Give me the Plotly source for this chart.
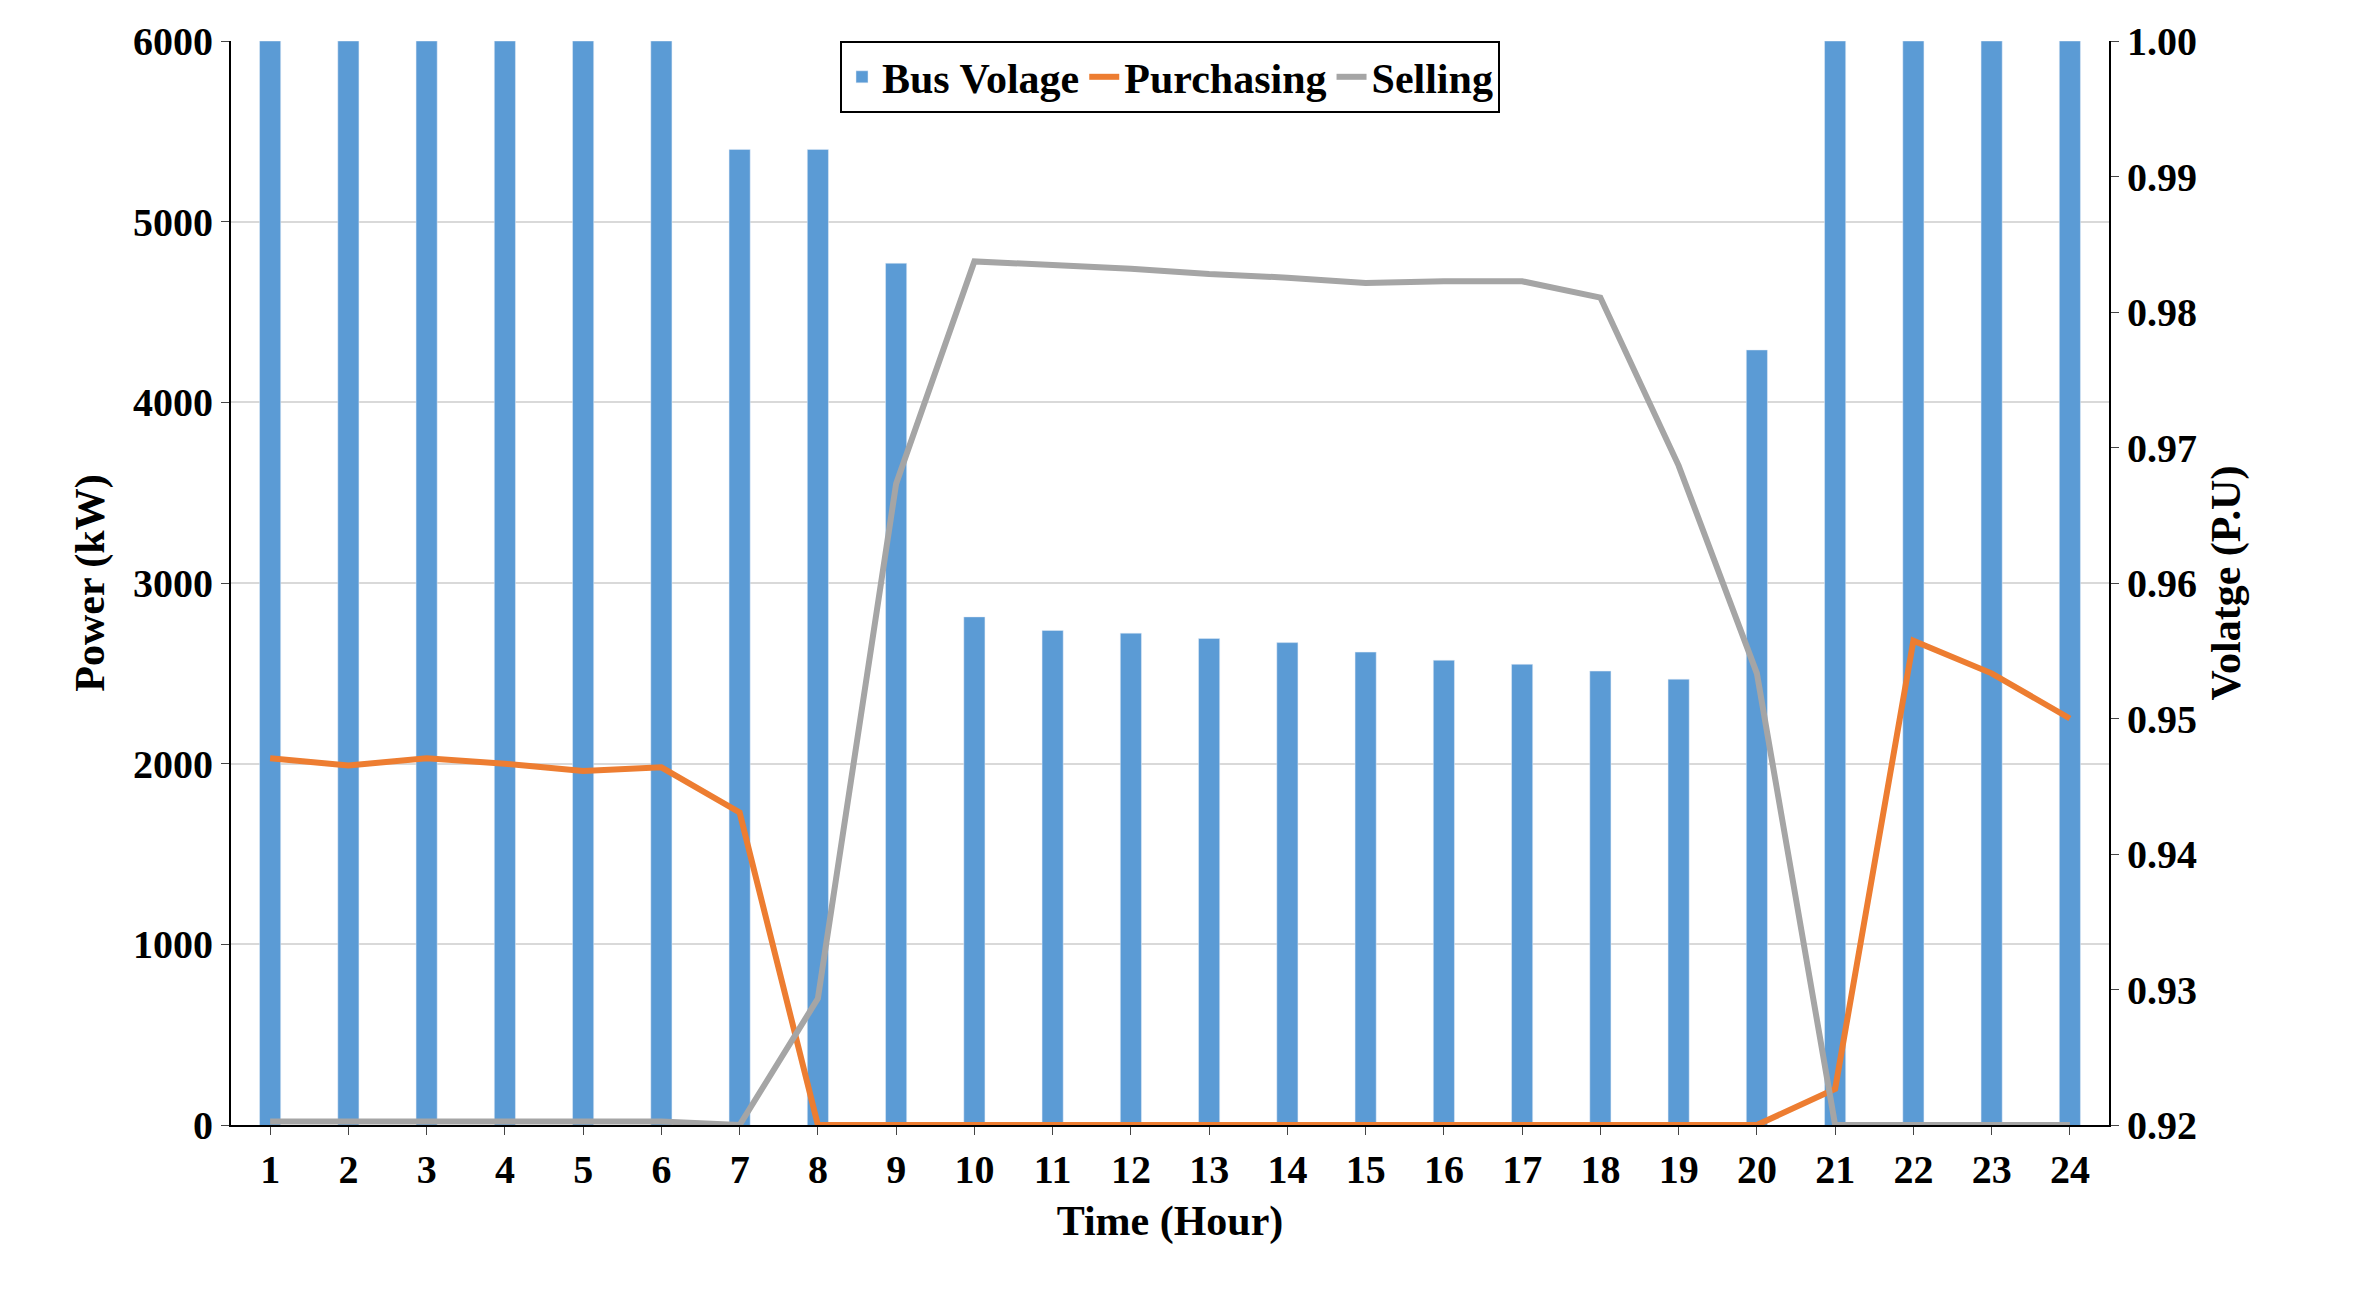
import plotly.graph_objects as go

hours = list(range(1, 25))
bus_voltage = [1.0, 1.0, 1.0, 1.0, 1.0, 1.0, 0.992, 0.992, 0.9836, 0.9575, 0.9565, 0.9563,
               0.9559, 0.9556, 0.9549, 0.9543, 0.9540, 0.9535, 0.9529, 0.9772, 1.0, 1.0, 1.0, 1.0]
purchasing = [2030, 1990, 2030, 2000, 1960, 1980, 1730, 0, 0, 0, 0, 0,
              0, 0, 0, 0, 0, 0, 0, 0, 200, 2680, 2500, 2250]
selling = [20, 20, 20, 20, 20, 20, 0, 700, 3550, 4780, 4760, 4740,
           4710, 4690, 4660, 4670, 4670, 4580, 3650, 2500, 0, 0, 0, 0]
power_ticks = [0, 1000, 2000, 3000, 4000, 5000, 6000]
volt_ticks = [0.92 + 0.01 * i for i in range(9)]

F = "Liberation Serif"
fig = go.Figure()
fig.add_trace(go.Bar(x=hours, y=bus_voltage, name="<b>Bus Volage</b>", marker_color="#5B9BD5",
                     width=0.27, yaxis="y"))
fig.add_trace(go.Scatter(x=hours, y=purchasing, name="<b>Purchasing</b>", mode="lines",
                         line=dict(color="#ED7D31", width=6), yaxis="y2"))
fig.add_trace(go.Scatter(x=hours, y=selling, name="<b>Selling</b>", mode="lines",
                         line=dict(color="#A5A5A5", width=6), yaxis="y2"))

axis_common = dict(showline=True, linecolor="black", linewidth=2, ticks="outside", ticklen=8,
                   zeroline=False)
fig.update_layout(
    width=2355, height=1290, plot_bgcolor="white", paper_bgcolor="white",
    margin=dict(l=223, r=254, t=33, b=173),
    font=dict(family=F, size=40, color="black"),
    xaxis=dict(title=dict(text="<b>Time (Hour)</b>", font=dict(size=42)), tickmode="array",
               tickvals=hours, ticktext=[f"<b>{h}</b>" for h in hours], range=[0.5, 24.5],
               **axis_common),
    yaxis=dict(title=dict(text="<b>Volatge (P.U)</b>", font=dict(size=42)), side="right",
               range=[0.92, 1.0], tickvals=volt_ticks,
               ticktext=[f"<b>{v:.2f}</b>" for v in volt_ticks], showgrid=False,
               minor=dict(tick0=0.92, dtick=0.08 / 6, showgrid=True, gridcolor="#D9D9D9",
                          gridwidth=2, ticks=""),
               **axis_common),
    yaxis2=dict(title=dict(text="<b>Power (kW)</b>", font=dict(size=42)), overlaying="y",
                side="left", range=[0, 6000], tickvals=power_ticks,
                ticktext=[f"<b>{v}</b>" for v in power_ticks], showgrid=False,
                **axis_common),
    legend=dict(orientation="h", x=0.5, xanchor="center", y=1.0, yanchor="top",
                bgcolor="white", bordercolor="black", borderwidth=2,
                font=dict(size=42), traceorder="normal"),
    showlegend=True,
)
fig.write_html("out.html")
